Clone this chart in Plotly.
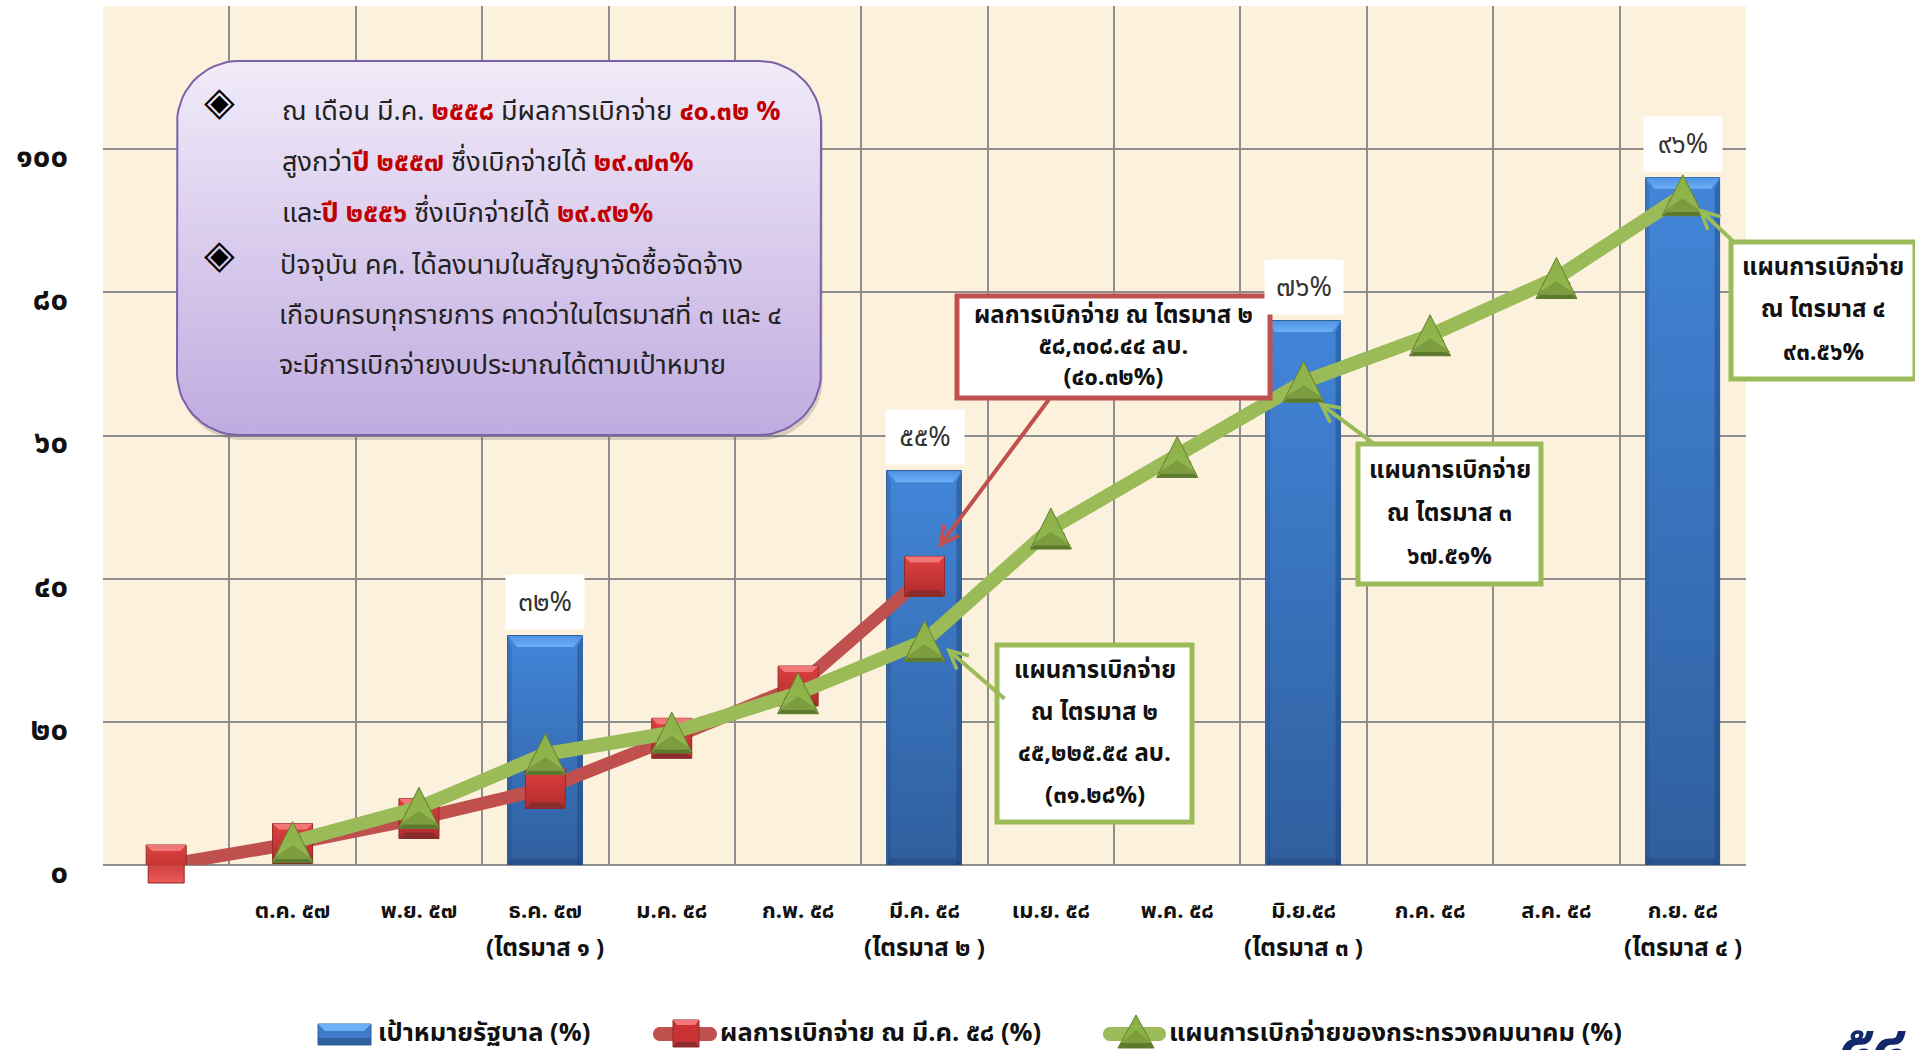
import numpy as np
import plotly.graph_objects as go

# ---------- data ----------
month_labels = ["", "ต.ค. ๕๗", "พ.ย. ๕๗", "ธ.ค. ๕๗", "ม.ค. ๕๘", "ก.พ. ๕๘", "มี.ค. ๕๘",
                "เม.ย. ๕๘", "พ.ค. ๕๘", "มิ.ย.๕๘", "ก.ค. ๕๘", "ส.ค. ๕๘", "ก.ย. ๕๘"]
month_index = list(range(13))
quarter_index = [3, 6, 9, 12]
quarter_labels = ["(ไตรมาส ๑ )", "(ไตรมาส ๒ )", "(ไตรมาส ๓ )", "(ไตรมาส ๔ )"]
target_values = [32, 55, 76, 96]
target_labels = ["๓๒%", "๕๕%", "๗๖%", "๙๖%"]
actual_index = [0, 1, 2, 3, 4, 5, 6]
actual_values = [0, 3, 6.5, 10.7, 17.7, 25, 40.32]
plan_index = [1, 2, 3, 4, 5, 6, 7, 8, 9, 10, 11, 12]
plan_values = [3.2, 8, 15.5, 18.5, 24, 31.28, 47, 57, 67.51, 74, 82, 93.56]
y_ticks = [0, 20, 40, 60, 80, 100, 120]
y_tick_labels = ["๐", "๒๐", "๔๐", "๖๐", "๘๐", "๑๐๐", ""]
series_names = ["เป้าหมายรัฐบาล (%)", "ผลการเบิกจ่าย ณ มี.ค. ๕๘ (%)",
                "แผนการเบิกจ่ายของกระทรวงคมนาคม (%)"]

# ---------- layout helpers ----------
W, H = 1915, 1050
L, R, T, B = 103, 1746, 6, 865
FONT = "Noto Sans Thai, Noto Sans, DejaVu Sans, sans-serif"
X0, X1 = -0.5, 12.5
Y0, Y1 = 0, 120
UX = (R - L) / (X1 - X0)
UY = (B - T) / (Y1 - Y0)
def px(x): return (x - L) / (R - L)
def py(y): return (B - y) / (B - T)
def dx(x): return X0 + (x - L) / UX
def dy(y): return Y0 + (B - y) / UY

fig = go.Figure()
ann = []
shapes = []

def poly(xs, ys, color=None, grad=None, line=None):
    kw = dict(x=list(xs) + [xs[0]], y=list(ys) + [ys[0]], mode="lines", fill="toself",
              line=dict(width=0) if line is None else line,
              hoverinfo="skip", showlegend=False, cliponaxis=False)
    if grad:
        kw["fillgradient"] = dict(type="vertical", colorscale=[[0, grad[1]], [1, grad[0]]])
    else:
        kw["fillcolor"] = color
    fig.add_trace(go.Scatter(**kw))

def key(pts, color, edge=None):
    """A legend-key polygon given in page pixels, drawn as a paper-referenced shape."""
    path = "M" + "L".join(f"{px(a):.5f},{py(b):.5f}" for a, b in pts) + "Z"
    shapes.append(dict(type="path", xref="paper", yref="paper", path=path, fillcolor=color, layer="above",
                       line=dict(width=1 if edge else 0, color=edge or color)))

def arc_points(x0, y0, x1, y1, r):
    pts = []
    for cx, cy, a0 in [(x1 - r, y0 + r, -90), (x1 - r, y1 - r, 0), (x0 + r, y1 - r, 90), (x0 + r, y0 + r, 180)]:
        for a in np.radians(np.linspace(a0, a0 + 90, 16)):
            pts.append((cx + r * np.cos(a), cy + r * np.sin(a)))
    return pts

def rounded(x0, y0, x1, y1, r):
    pts = arc_points(x0, y0, x1, y1, r)
    return [dx(p[0]) for p in pts], [dy(p[1]) for p in pts]

def square(xc, yc, s):
    hx, hy = s / 2 / UX, s / 2 / UY
    b = 6
    poly([xc - hx, xc + hx, xc + hx, xc - hx], [yc + hy, yc + hy, yc - hy, yc - hy], grad=("#DE4040", "#B02C2C"),
         line=dict(width=1, color="#8E2A28"))
    poly([xc - hx, xc + hx, xc + hx - b / UX, xc - hx + b / UX],
         [yc + hy, yc + hy, yc + hy - b / UY, yc + hy - b / UY], color="#F27878")
    poly([xc - hx, xc + hx, xc + hx - b / UX, xc - hx + b / UX],
         [yc - hy, yc - hy, yc - hy + b / UY, yc - hy + b / UY], color="#8A2C2C")

def triangle(xc, yc, w, h):
    hx, hy = w / 2 / UX, h / 2 / UY
    poly([xc, xc + hx, xc - hx], [yc + hy, yc - hy, yc - hy], grad=("#8CB146", "#94B752"),
         line=dict(width=1, color="#66802E"))
    poly([xc, xc + hx, xc - hx], [yc - hy + 0.42 * 2 * hy, yc - hy + 0.18 * hy, yc - hy + 0.18 * hy],
         color="rgba(90,120,40,0.40)")
    poly([xc - hx, xc + hx, xc + hx * 0.82, xc - hx * 0.82],
         [yc - hy, yc - hy, yc - hy + 0.18 * hy, yc - hy + 0.18 * hy], color="#5C7A2E")

# rounded gradient panel
sx, sy = rounded(179, 65, 823, 440, 62)
poly(sx, sy, color="rgba(90,80,90,0.22)")
qx, qy = rounded(177, 61, 821, 435, 62)
poly(qx, qy, grad=("#F1EBF9", "#C0ABE0"), line=dict(width=2, color="#7C60A8"))

# bars
BAR_W = 0.59
fig.add_trace(go.Bar(x=quarter_index, y=target_values, width=BAR_W, name=series_names[0],
                     marker=dict(color="#3E7CCB", line=dict(color="#2F6096", width=1)), showlegend=False))
for xc, v in zip(quarter_index, target_values):
    a, b = xc - BAR_W / 2, xc + BAR_W / 2
    poly([a, b, b, a], [v, v, 0, 0], grad=("#4285D8", "#2F5F9E"))
    ex, ey = 9 / UX, 11 / UY
    poly([a, b, b - ex, a + ex], [v, v, v - ey, v - ey], grad=("#4F92E4", "#6BB0F7"))
    poly([b, b, b - ex * 0.6, b - ex * 0.6], [v, 0, 0, v - ey], color="rgba(30,60,110,0.40)")
    poly([a, a, a + ex * 0.4, a + ex * 0.4], [v, 0, 0, v - ey], color="rgba(30,60,110,0.22)")
    poly([a, b, b - ex * 0.6, a + ex * 0.4], [0, 0, ey * 0.6, ey * 0.6], color="rgba(30,60,110,0.35)")

# lines
fig.add_trace(go.Scatter(x=actual_index, y=actual_values, mode="lines+markers", name=series_names[1],
                         line=dict(color="#C0504D", width=13), cliponaxis=False, showlegend=False,
                         marker=dict(symbol="square", size=36, color="#A92A28",
                                     gradient=dict(type="vertical", color="#EE5A5A"),
                                     line=dict(color="#8E2A28", width=1))))
for xc, v in zip(actual_index, actual_values):
    square(xc, v, 40)
fig.add_trace(go.Scatter(x=plan_index, y=plan_values, mode="lines+markers", name=series_names[2],
                         line=dict(color="#9BBB59", width=14), cliponaxis=False, showlegend=False,
                         marker=dict(symbol="triangle-up", size=24, color="#6F9030",
                                     gradient=dict(type="vertical", color="#A8C85C"),
                                     line=dict(color="#66802E", width=1))))
for xc, v in zip(plan_index, plan_values):
    triangle(xc, v, 41, 41)

# legend keys (page-pixel shapes, large as in the reference)
key([(318, 1024), (371, 1024), (371, 1045), (318, 1045)], "#3E7CCB", "#2F6096")
key([(318, 1038), (371, 1038), (371, 1045), (318, 1045)], "#2F5F9E")
key([(318, 1024), (371, 1024), (364, 1031), (325, 1031)], "#6BB0F7")
key(arc_points(653, 1027, 717, 1041, 7), "#C0504D")
key([(673, 1020), (699, 1020), (699, 1047), (673, 1047)], "#C83232", "#8E2A28")
key([(673, 1020), (699, 1020), (695, 1025), (677, 1025)], "#F27878")
key([(673, 1047), (699, 1047), (695, 1042), (677, 1042)], "#8A2C2C")
key(arc_points(1103, 1027, 1166, 1041, 7), "#9BBB59")
key([(1136, 1015), (1154, 1048), (1118, 1048)], "#8CB146", "#66802E")
key([(1136, 1030), (1151, 1043), (1121, 1043)], "#7D9F3E")
key([(1118, 1048), (1154, 1048), (1151, 1043), (1121, 1043)], "#5C7A2E")

def text(xp, yp, t, size, color="#111111", xanchor="center", weight=None, family=FONT):
    font = dict(family=family, size=size, color=color)
    if weight:
        font["weight"] = weight
    ann.append(dict(x=px(xp), y=py(yp), xref="paper", yref="paper", xanchor=xanchor, yanchor="middle",
                    text=t, showarrow=False, font=font))

# value labels on the bars
for xc, v, t in zip(quarter_index, target_values, target_labels):
    ann.append(dict(x=xc, y=v, xref="x", yref="y", xanchor="center", yanchor="bottom", yshift=6, text=t,
                    showarrow=False, bgcolor="#FFFFFF", width=78, height=54, borderpad=0,
                    font=dict(family=FONT, size=27, color="#333333")))

# quarter labels
for xc, t in zip(quarter_index, quarter_labels):
    ann.append(dict(x=xc, xref="x", y=py(949), yref="paper", text=t, showarrow=False, xanchor="center",
                    yanchor="middle", font=dict(family=FONT, size=24, color="#111111", weight=700)))

# legend text
text(376, 1033, series_names[0], 25.5, xanchor="left", weight=700)
text(718, 1033, series_names[1], 25.5, xanchor="left", weight=700)
text(1167, 1033, series_names[2], 25.5, xanchor="left", weight=700)

# panel text
RED = "#C00000"
def r(s): return f'<b><span style="color:{RED}">{s}</span></b>'
panel_lines = [
    (280, 112, "ณ เดือน มี.ค. " + r("๒๕๕๘") + " มีผลการเบิกจ่าย " + r("๔๐.๓๒ %")),
    (280, 162, "สูงกว่า" + r("ปี ๒๕๕๗") + " ซึ่งเบิกจ่ายได้ " + r("๒๙.๗๓%")),
    (280, 213, "และ" + r("ปี ๒๕๕๖") + " ซึ่งเบิกจ่ายได้ " + r("๒๙.๙๒%")),
    (278, 265, "ปัจจุบัน คค. ได้ลงนามในสัญญาจัดซื้อจัดจ้าง"),
    (277, 315, "เกือบครบทุกรายการ คาดว่าในไตรมาสที่ ๓ และ ๔"),
    (277, 366, "จะมีการเบิกจ่ายงบประมาณได้ตามเป้าหมาย"),
]
for xp, yp, t in panel_lines:
    text(xp, yp, t, 27, color="#222222", xanchor="left")
for yp in (98, 251):
    text(219, yp, "◈", 40, color="#000000", family="Noto Sans CJK SC")

# call-out boxes
RED_BOX = "#C0504D"
GREEN_BOX = "#9BBB59"
boxes = [
    ((957, 296, 1270, 398), RED_BOX, ["ผลการเบิกจ่าย ณ ไตรมาส ๒", "๕๘,๓๐๘.๔๔ ลบ.", "(๔๐.๓๒%)"],
     [(1050, 398, 938, 548)]),
    ((997, 645, 1192, 822), GREEN_BOX, ["แผนการเบิกจ่าย", "ณ ไตรมาส ๒", "๔๕,๒๒๕.๕๔ ลบ.", "(๓๑.๒๘%)"],
     [(1006, 700, 946, 648)]),
    ((1358, 444, 1541, 584), GREEN_BOX, ["แผนการเบิกจ่าย", "ณ ไตรมาส ๓", "๖๗.๕๑%"],
     [(1377, 446, 1318, 402)]),
    ((1731, 242, 1915, 379), GREEN_BOX, ["แผนการเบิกจ่าย", "ณ ไตรมาส ๔", "๙๓.๕๖%"],
     [(1736, 244, 1698, 208)]),
]
for (x0, y0, x1, y1), col, lines, arrows in boxes:
    shapes.append(dict(type="rect", xref="paper", yref="paper", x0=px(x0), x1=px(x1), y0=py(y0), y1=py(y1),
                       fillcolor="#FFFFFF", line=dict(color=col, width=5), layer="above"))
    n = len(lines)
    step = (y1 - y0 - 10) / n
    if step < 36:
        text((x0 + x1) / 2, (y0 + y1) / 2, "<br>".join(lines), 24, weight=700)
    else:
        for i, t in enumerate(lines):
            text((x0 + x1) / 2, y0 + 5 + step * (i + 0.5), t, 24, weight=700)
    for sxp, syp, tx, ty in arrows:
        ann.append(dict(x=px(tx), y=py(ty), xref="paper", yref="paper", text="", showarrow=True,
                        ax=sxp - tx, ay=syp - ty, axref="pixel", ayref="pixel",
                        arrowhead=5, arrowsize=0.9, arrowwidth=4, arrowcolor=col))

# clipped page number
text(1871, 1047, "<b><i>๕๔</i></b>", 60, color="#14296B")

fig.update_layout(
    width=W, height=H, margin=dict(l=L, r=W - R, t=T, b=H - B, autoexpand=False),
    paper_bgcolor="#FFFFFF", plot_bgcolor="#FCF1DC", barmode="overlay", bargap=0, showlegend=False,
    font=dict(family=FONT, color="#111111"),
    xaxis=dict(range=[X0, X1], tickmode="array", tickvals=month_index, ticktext=month_labels, showgrid=False,
               zeroline=False, showline=False, ticks="", ticklabelstandoff=30,
               tickfont=dict(family=FONT, size=22, color="#111111", weight=700),
               minor=dict(tickmode="array", tickvals=[i - 0.5 for i in range(14)], showgrid=True,
                          gridcolor="#8E8E8E", gridwidth=1.5, ticks="")),
    yaxis=dict(range=[Y0, Y1], tickmode="array", tickvals=y_ticks, ticktext=y_tick_labels, showgrid=True,
               gridcolor="#8E8E8E", gridwidth=2, zeroline=True, zerolinecolor="#8E8E8E", zerolinewidth=2,
               ticks="", ticklabelstandoff=34, ticklabelshift=7,
               tickfont=dict(family=FONT, size=31, color="#111111", weight=700)),
    annotations=ann, shapes=shapes,
)
fig.write_html("out.html", config=dict(displayModeBar=False),
               post_script="document.body.style.margin='0';document.body.style.overflow='hidden';")
